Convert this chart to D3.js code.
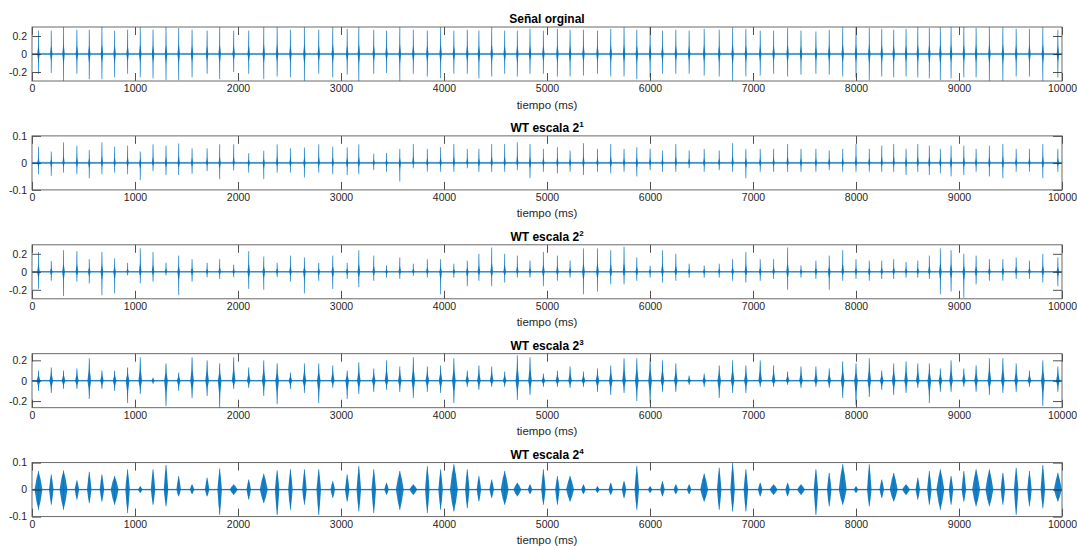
<!DOCTYPE html>
<html>
<head>
<meta charset="utf-8">
<script src="https://cdn.jsdelivr.net/npm/d3@7"></script>
<style>
  body { margin: 0; background: #fff; }
  svg { display: block; font-family: "Liberation Sans", Arial, Helvetica, sans-serif; }
</style>
</head>
<body>
<svg id="chart" width="1077" height="546"></svg>
<script>
// ---- Data -------------------------------------------------------------
// Beat instants (ms) of the recording
const beatTimes = [
  63,187,306,436,556,679,802,928,1051,1175,1301,1424,1554,1700,1822,1958,2104,2250,2380,2509,2645,2784,2920,3060,3173,
  3318,3442,3571,3702,3838,3967,4096,4226,4339,4463,4589,4712,4835,4965,5101,5224,5354,5490,5619,5748,5872,6001,6121,6251,6380,6526,6672,
  6802,6931,7070,7200,7336,7466,7611,7740,7871,8000,8129,8250,8366,8486,8600,8712,8819,8923,9047,9166,9295,9426,9555,9684,9814,9960
];

// Original signal: positive and negative peak of each beat
const originalMax = [
  0.26,0.26,0.3,0.27,0.27,0.3,0.26,0.27,0.3,0.27,0.3,0.29,0.27,0.26,0.3,0.26,0.26,0.3,0.3,0.27,0.3,0.27,0.3,0.28,0.3,
  0.27,0.26,0.3,0.27,0.26,0.3,0.26,0.27,0.26,0.3,0.26,0.26,0.28,0.26,0.28,0.27,0.27,0.26,0.28,0.3,0.27,0.3,0.26,0.27,0.26,0.28,0.27,
  0.3,0.28,0.26,0.26,0.29,0.26,0.25,0.27,0.3,0.3,0.29,0.28,0.27,0.28,0.3,0.29,0.3,0.3,0.3,0.29,0.3,0.3,0.28,0.28,0.3,0.27
];
const originalMin = [
  -0.22,-0.21,-0.3,-0.22,-0.28,-0.28,-0.26,-0.22,-0.26,-0.27,-0.29,-0.29,-0.26,-0.22,-0.28,-0.2,-0.22,-0.28,-0.25,-0.26,-0.3,-0.22,-0.26,-0.23,-0.3,
  -0.22,-0.21,-0.3,-0.22,-0.25,-0.27,-0.22,-0.22,-0.27,-0.25,-0.22,-0.25,-0.22,-0.22,-0.25,-0.25,-0.24,-0.22,-0.25,-0.25,-0.28,-0.26,-0.22,-0.22,-0.22,-0.24,-0.25,
  -0.3,-0.25,-0.24,-0.22,-0.25,-0.23,-0.22,-0.23,-0.25,-0.26,-0.29,-0.25,-0.26,-0.25,-0.26,-0.27,-0.29,-0.27,-0.26,-0.26,-0.3,-0.3,-0.25,-0.25,-0.3,-0.26
];

// Wavelet transform, scale 2^1
const wt1Max = [
  0.06,0.042,0.076,0.064,0.048,0.076,0.06,0.064,0.042,0.069,0.064,0.072,0.054,0.054,0.069,0.069,0.036,0.045,0.069,0.054,0.057,0.069,0.06,0.057,0.069,
  0.034,0.037,0.052,0.07,0.052,0.058,0.07,0.052,0.052,0.07,0.07,0.076,0.07,0.052,0.058,0.046,0.073,0.052,0.07,0.052,0.058,0.052,0.046,0.07,0.046,0.052,0.046,
  0.073,0.052,0.052,0.052,0.07,0.052,0.052,0.046,0.052,0.07,0.052,0.064,0.07,0.052,0.07,0.064,0.052,0.064,0.064,0.052,0.064,0.07,0.052,0.052,0.07,0.052
];
const wt1Min = [
  -0.042,-0.048,-0.036,-0.042,-0.057,-0.042,-0.036,-0.042,-0.064,-0.03,-0.045,-0.045,-0.04,-0.03,-0.06,-0.028,-0.036,-0.06,-0.036,-0.036,-0.054,-0.036,-0.042,-0.045,-0.042,
  -0.027,-0.033,-0.069,-0.02,-0.033,-0.033,-0.033,-0.02,-0.033,-0.033,-0.033,-0.027,-0.057,-0.033,-0.039,-0.033,-0.045,-0.033,-0.039,-0.033,-0.05,-0.027,-0.033,-0.033,-0.02,-0.033,-0.027,
  -0.033,-0.057,-0.033,-0.033,-0.033,-0.033,-0.033,-0.027,-0.033,-0.033,-0.033,-0.033,-0.033,-0.045,-0.033,-0.045,-0.039,-0.05,-0.045,-0.033,-0.05,-0.057,-0.033,-0.033,-0.057,-0.033
];

// Wavelet transform, scale 2^2
const wt2Max = [
  0.22,0.12,0.24,0.23,0.14,0.22,0.15,0.1,0.26,0.22,0.1,0.18,0.14,0.1,0.14,0.08,0.23,0.17,0.1,0.18,0.16,0.1,0.18,0.1,0.24,
  0.18,0.07,0.16,0.09,0.14,0.14,0.09,0.125,0.2,0.27,0.2,0.18,0.125,0.22,0.18,0.125,0.26,0.26,0.24,0.28,0.16,0.07,0.24,0.2,0.09,0.07,0.09,
  0.14,0.22,0.14,0.14,0.27,0.07,0.125,0.18,0.24,0.14,0.125,0.125,0.14,0.11,0.125,0.18,0.26,0.24,0.2,0.18,0.14,0.14,0.16,0.125,0.2,0.16
];
const wt2Min = [
  -0.19,-0.1,-0.27,-0.11,-0.13,-0.26,-0.24,-0.04,-0.13,-0.11,-0.04,-0.26,-0.11,-0.06,-0.08,-0.06,-0.19,-0.2,-0.06,-0.11,-0.24,-0.1,-0.19,-0.08,-0.17,
  -0.1,-0.065,-0.08,-0.045,-0.065,-0.25,-0.065,-0.16,-0.1,-0.16,-0.12,-0.065,-0.065,-0.16,-0.1,-0.065,-0.25,-0.22,-0.14,-0.14,-0.1,-0.065,-0.12,-0.1,-0.065,-0.065,-0.065,
  -0.1,-0.12,-0.1,-0.08,-0.2,-0.065,-0.08,-0.2,-0.1,-0.08,-0.1,-0.08,-0.08,-0.065,-0.065,-0.08,-0.25,-0.22,-0.29,-0.14,-0.1,-0.1,-0.08,-0.08,-0.12,-0.16
];

// Wavelet transform, scale 2^3
const wt3Max = [
  0.1,0.13,0.1,0.12,0.22,0.1,0.1,0.13,0.23,0.03,0.17,0.08,0.23,0.2,0.17,0.23,0.13,0.2,0.17,0.08,0.17,0.17,0.15,0.1,0.18,
  0.12,0.2,0.14,0.23,0.14,0.15,0.22,0.1,0.15,0.14,0.09,0.25,0.23,0.07,0.1,0.14,0.09,0.12,0.15,0.22,0.22,0.22,0.2,0.17,0.05,0.07,0.15,
  0.2,0.15,0.2,0.15,0.09,0.14,0.14,0.12,0.19,0.17,0.22,0.1,0.17,0.19,0.17,0.17,0.12,0.2,0.12,0.15,0.22,0.22,0.17,0.1,0.2,0.14
];
const wt3Min = [
  -0.1,-0.12,-0.08,-0.08,-0.18,-0.08,-0.1,-0.22,-0.13,-0.03,-0.25,-0.1,-0.17,-0.15,-0.27,-0.08,-0.07,-0.15,-0.23,-0.08,-0.12,-0.22,-0.07,-0.18,-0.13,
  -0.11,-0.09,-0.11,-0.17,-0.11,-0.12,-0.22,-0.06,-0.09,-0.06,-0.06,-0.19,-0.14,-0.06,-0.06,-0.07,-0.06,-0.11,-0.14,-0.12,-0.2,-0.22,-0.11,-0.11,-0.04,-0.06,-0.17,
  -0.12,-0.12,-0.06,-0.06,-0.04,-0.07,-0.06,-0.07,-0.17,-0.24,-0.16,-0.09,-0.14,-0.12,-0.07,-0.22,-0.11,-0.11,-0.06,-0.11,-0.14,-0.12,-0.11,-0.06,-0.25,-0.11
];

// Wavelet transform, scale 2^4
const wt4Max = [
  0.069,0.056,0.071,0.034,0.066,0.056,0.05,0.075,0.012,0.075,0.091,0.05,0.019,0.044,0.078,0.019,0.037,0.059,0.071,0.075,0.075,0.075,0.031,0.056,0.087,
  0.075,0.025,0.069,0.019,0.087,0.075,0.094,0.075,0.05,0.037,0.069,0.025,0.019,0.075,0.05,0.05,0.019,0.012,0.025,0.031,0.087,0.012,0.031,0.019,0.019,0.059,0.081,
  0.1,0.075,0.025,0.019,0.025,0.019,0.075,0.062,0.094,0.012,0.094,0.037,0.062,0.019,0.044,0.069,0.075,0.05,0.069,0.075,0.075,0.062,0.081,0.069,0.091,0.062
];
const wt4Min = [
  -0.075,-0.056,-0.075,-0.037,-0.05,-0.044,-0.056,-0.087,-0.012,-0.056,-0.062,-0.025,-0.016,-0.025,-0.094,-0.019,-0.037,-0.05,-0.094,-0.075,-0.056,-0.094,-0.031,-0.044,-0.081,
  -0.087,-0.019,-0.075,-0.019,-0.087,-0.075,-0.081,-0.069,-0.044,-0.031,-0.056,-0.025,-0.016,-0.056,-0.056,-0.044,-0.016,-0.012,-0.019,-0.031,-0.075,-0.012,-0.025,-0.016,-0.016,-0.044,-0.075,
  -0.081,-0.081,-0.025,-0.019,-0.025,-0.019,-0.094,-0.062,-0.056,-0.012,-0.062,-0.031,-0.044,-0.019,-0.037,-0.056,-0.075,-0.056,-0.044,-0.062,-0.062,-0.056,-0.094,-0.062,-0.069,-0.044
];
// Half-duration (ms) of each oscillation burst at scale 2^4
const wt4HalfWidth = [
  38,22,38,22,22,22,38,22,22,22,22,22,22,22,22,38,22,38,22,22,22,22,22,22,22,
  22,22,38,38,22,22,38,22,22,22,38,38,22,22,22,38,22,22,22,22,22,22,22,22,22,38,22,
  22,22,22,38,22,38,22,22,38,22,22,22,38,38,22,22,38,22,22,38,38,22,22,22,22,38
];

// Axis ticks and labels
const timeTicks = [0,1000,2000,3000,4000,5000,6000,7000,8000,9000,10000];
const panelTitles = ["Señal orginal", "WT escala 2", "WT escala 2", "WT escala 2", "WT escala 2"];
const titleExponents = ["", "1", "2", "3", "4"];
const yLimits = [0.3, 0.1, 0.3, 0.265, 0.1];
const yTickSets = [[-0.2,0,0.2],[-0.1,0,0.1],[-0.2,0,0.2],[-0.2,0,0.2],[-0.1,0,0.1]];
const baselineNoise = [0.012, 0.004, 0.008, 0.008, 0.003];
const burstHalfWidth = [12, 11, 13, 18, wt4HalfWidth];
const peakMax = [originalMax, wt1Max, wt2Max, wt3Max, wt4Max];
const peakMin = [originalMin, wt1Min, wt2Min, wt3Min, wt4Min];
const xLabel = "tiempo (ms)";

// ---- Layout -------------------------------------------------------------
const svg = d3.select("#chart");
const left = 32, plotW = 1030, plotH = 54, firstTop = 27, step = 108.9;
const blue = "#0072BD", ink = "#262626";
// Burst glyph shoulders per panel: [fraction of half-width, fraction of peak]
const shoulders = [[0.22, 0.35], [0.22, 0.35], [0.22, 0.35], [0.32, 0.45], [0.5, 0.6]];

const x = d3.scaleLinear().domain([0, 10000]).range([0, plotW]);
const yFmt = d => (d === 0 ? "0" : String(d));

// Burst glyph: a pinched lozenge, wide around zero and thin towards the peaks
const burstOutline = (d, [sw, sh]) => [
  [d.t - d.w, 0], [d.t - d.w * sw, d.hi * sh], [d.t, d.hi], [d.t + d.w * sw, d.hi * sh],
  [d.t + d.w, 0], [d.t + d.w * sw, d.lo * sh], [d.t, d.lo], [d.t - d.w * sw, d.lo * sh]
];

panelTitles.forEach((title, i) => {
  const top = firstTop + i * step;
  const y = d3.scaleLinear().domain([-yLimits[i], yLimits[i]]).range([plotH, 0]);
  const g = svg.append("g").attr("transform", `translate(${left},${top})`);

  const clipId = "plotclip" + i;
  g.append("clipPath").attr("id", clipId)
    .append("rect").attr("width", plotW).attr("height", plotH);
  const plot = g.append("g").attr("clip-path", `url(#${clipId})`);

  // low-level activity around zero
  plot.append("rect")
    .attr("x", 0).attr("width", plotW)
    .attr("y", y(baselineNoise[i]))
    .attr("height", y(-baselineNoise[i]) - y(baselineNoise[i]))
    .attr("fill", blue).attr("opacity", 0.35);
  plot.append("line")
    .attr("x1", 0).attr("x2", plotW)
    .attr("y1", y(0)).attr("y2", y(0))
    .attr("stroke", blue).attr("stroke-width", 1);

  const beats = beatTimes.map((t, k) => ({
    t,
    hi: peakMax[i][k],
    lo: peakMin[i][k],
    w: Array.isArray(burstHalfWidth[i]) ? burstHalfWidth[i][k] : burstHalfWidth[i]
  }));

  const lens = d3.line().x(q => x(q[0])).y(q => y(q[1]));
  plot.selectAll("path.burst").data(beats).join("path")
    .attr("class", "burst")
    .attr("d", d => lens(burstOutline(d, shoulders[i])) + "Z")
    .attr("fill", blue).attr("fill-opacity", 0.9);

  plot.selectAll("line.spike").data(beats).join("line")
    .attr("class", "spike")
    .attr("x1", d => x(d.t)).attr("x2", d => x(d.t))
    .attr("y1", d => y(d.hi)).attr("y2", d => y(d.lo))
    .attr("stroke", blue).attr("stroke-width", 0.9).attr("stroke-opacity", 0.75);

  // axes with inward ticks
  const styleAxis = sel => {
    sel.select(".domain").remove();
    sel.selectAll(".tick line").attr("stroke", ink).attr("stroke-width", 0.8);
    sel.selectAll("text").attr("fill", ink).attr("font-size", "10.5px")
      .attr("font-family", "'Liberation Sans', Arial, sans-serif");
  };
  g.append("g").attr("transform", `translate(0,${plotH})`)
    .call(d3.axisBottom(x).tickValues(timeTicks).tickSizeInner(-8).tickSizeOuter(0).tickPadding(4).tickFormat(d3.format("d")))
    .call(styleAxis);
  g.append("g")
    .call(d3.axisTop(x).tickValues(timeTicks).tickSizeInner(-8).tickSizeOuter(0).tickFormat(""))
    .call(styleAxis);
  g.append("g")
    .call(d3.axisLeft(y).tickValues(yTickSets[i]).tickSizeInner(-9).tickSizeOuter(0).tickPadding(5).tickFormat(yFmt))
    .call(styleAxis);
  g.append("g").attr("transform", `translate(${plotW},0)`)
    .call(d3.axisRight(y).tickValues(yTickSets[i]).tickSizeInner(-9).tickSizeOuter(0).tickFormat(""))
    .call(styleAxis);

  // frame
  g.append("rect").attr("width", plotW).attr("height", plotH)
    .attr("fill", "none").attr("stroke", "#5a5a5a").attr("stroke-width", 0.9);

  // x label
  g.append("text")
    .attr("x", plotW / 2).attr("y", plotH + 27.5)
    .attr("text-anchor", "middle").attr("fill", ink).attr("font-size", "11.5px")
    .text(xLabel);

  // title with optional exponent
  const t = g.append("text")
    .attr("x", plotW / 2).attr("y", -4)
    .attr("text-anchor", "middle").attr("fill", "#000")
    .attr("font-size", "12px").attr("font-weight", "bold")
    .text(title);
  if (titleExponents[i]) {
    t.append("tspan").attr("font-size", "8px").attr("dy", "-5").text(titleExponents[i]);
  }
});
</script>
</body>
</html>
